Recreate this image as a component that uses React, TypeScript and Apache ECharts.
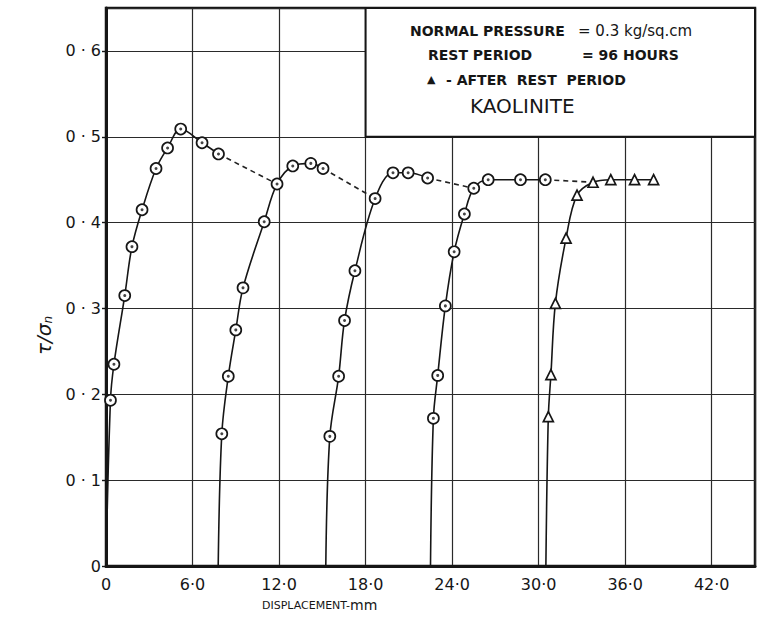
import React, { useEffect, useRef } from "react";
import * as echarts from "echarts";

// Displacement (mm) and tau/sigma_n readings, one pair of arrays per shear cycle.
// The first point of each cycle is where its curve leaves the x axis (no marker).
const CYCLE1_X = [0.0, 0.31, 0.55, 1.3, 1.8, 2.5, 3.47, 4.27, 5.18, 6.66, 7.8];
const CYCLE1_Y = [0.0, 0.193, 0.235, 0.315, 0.372, 0.415, 0.463, 0.487, 0.509, 0.493, 0.48];
const CYCLE2_X = [7.78, 8.03, 8.48, 9.0, 9.5, 10.97, 11.86, 12.95, 14.2, 15.05];
const CYCLE2_Y = [0.0, 0.154, 0.221, 0.275, 0.324, 0.401, 0.445, 0.466, 0.469, 0.463];
const CYCLE3_X = [15.24, 15.52, 16.13, 16.54, 17.26, 18.66, 19.9, 20.95, 22.3];
const CYCLE3_Y = [0.0, 0.151, 0.221, 0.286, 0.344, 0.428, 0.458, 0.458, 0.452];
const CYCLE4_X = [22.5, 22.7, 23.0, 23.53, 24.14, 24.85, 25.5, 26.5, 28.74, 30.46];
const CYCLE4_Y = [0.0, 0.172, 0.222, 0.303, 0.366, 0.41, 0.44, 0.45, 0.45, 0.45];
// After rest period (triangles)
const REST_X = [30.5, 30.67, 30.85, 31.16, 31.9, 32.66, 33.77, 35.0, 36.65, 37.97];
const REST_Y = [0.0, 0.174, 0.223, 0.306, 0.382, 0.432, 0.447, 0.45, 0.45, 0.45];

// Dashed links between successive cycles
const LINK1 = [[7.8, 0.48], [11.86, 0.445]];
const LINK2 = [[15.05, 0.463], [18.66, 0.428]];
const LINK3 = [[22.3, 0.452], [25.5, 0.44]];
const LINK4 = [[30.46, 0.45], [33.77, 0.447]];

const X_TICKS = [0, 6, 12, 18, 24, 30, 36, 42];
const X_TICK_LABELS = ["0", "6·0", "12·0", "18·0", "24·0", "30·0", "36·0", "42·0"];
const Y_TICK_LABELS = ["0", "0 · 1", "0 · 2", "0 · 3", "0 · 4", "0 · 5", "0 · 6"];

const INK = "#161616";
const FONT = "DejaVu Sans";

function pairs(xs: number[], ys: number[]) {
  return xs.map((x, i) => [x, ys[i]]);
}

function curveSeries(xs: number[], ys: number[], symbol: string, size: number, extra: any = {}) {
  const data = pairs(xs, ys).map((p, i) =>
    i === 0 ? { value: p, symbol: "none" } : { value: p }
  );
  return {
    type: "line",
    data,
    smooth: 0.35,
    symbol,
    symbolSize: size,
    showAllSymbol: true,
    lineStyle: { color: INK, width: 1.6 },
    itemStyle: { color: "#ffffff", borderColor: INK, borderWidth: 1.7 },
    z: 4,
    ...extra,
  };
}

function linkSeries(link: number[][]) {
  return {
    type: "line",
    data: link,
    symbol: "none",
    lineStyle: { color: "#222", width: 1.6, type: [5, 4] },
    z: 3,
  };
}

export default function App() {
  const ref = useRef<HTMLDivElement>(null);

  useEffect(() => {
    if (!ref.current) return;
    const chart = echarts.init(ref.current, null, { renderer: "svg" });

    const circleDots = [
      ...pairs(CYCLE1_X, CYCLE1_Y).slice(1),
      ...pairs(CYCLE2_X, CYCLE2_Y).slice(1),
      ...pairs(CYCLE3_X, CYCLE3_Y).slice(1),
      ...pairs(CYCLE4_X, CYCLE4_Y).slice(1),
    ];

    const option: any = {
      animation: false,
      backgroundColor: "#ffffff",
      grid: {
        left: 106,
        right: 3,
        top: 8,
        bottom: 62,
        show: true,
        borderColor: INK,
        borderWidth: 2.5,
        containLabel: false,
        outerBoundsMode: "none",
      },
      xAxis: {
        type: "value",
        min: 0,
        max: 45,
        interval: 6,
        axisLine: { show: true, lineStyle: { color: INK, width: 3 } },
        axisTick: { show: false },
        axisLabel: {
          margin: 10,
          color: INK,
          fontFamily: FONT,
          fontSize: 16,
          showMaxLabel: false,
          formatter: (v: number) => {
            const i = X_TICKS.indexOf(Math.round(v));
            return i >= 0 ? X_TICK_LABELS[i] : "";
          },
        },
        splitLine: { show: true, lineStyle: { color: "#2a2a2a", width: 1.2 } },
      },
      yAxis: {
        type: "value",
        min: 0,
        max: 0.65,
        interval: 0.1,
        axisLine: { show: true, lineStyle: { color: INK, width: 3 } },
        axisTick: { show: true, length: 4, lineStyle: { color: INK, width: 1.4 } },
        axisLabel: {
          margin: 5,
          color: INK,
          fontFamily: FONT,
          fontSize: 16,
          padding: [0, 0, 10, 0],
          showMaxLabel: false,
          formatter: (v: number) => {
            const i = Math.round(v * 10);
            return v <= 0.605 && i >= 0 && i < Y_TICK_LABELS.length ? Y_TICK_LABELS[i] : "";
          },
        },
        splitLine: { show: true, lineStyle: { color: "#2a2a2a", width: 1.2 } },
      },
      series: [
        {
          type: "line",
          data: [],
          silent: true,
          markArea: {
            silent: true,
            itemStyle: { color: "#ffffff", borderColor: INK, borderWidth: 2 },
            label: { show: false },
            data: [[{ coord: [18, 0.5] }, { coord: [45, 0.65] }]],
          },
          z: 2,
        },
        linkSeries(LINK1),
        linkSeries(LINK2),
        linkSeries(LINK3),
        linkSeries(LINK4),
        curveSeries(CYCLE1_X, CYCLE1_Y, "circle", 11),
        curveSeries(CYCLE2_X, CYCLE2_Y, "circle", 11),
        curveSeries(CYCLE3_X, CYCLE3_Y, "circle", 11),
        curveSeries(CYCLE4_X, CYCLE4_Y, "circle", 11),
        curveSeries(REST_X, REST_Y, "triangle", 10),
        {
          type: "scatter",
          data: circleDots,
          symbol: "circle",
          symbolSize: 3,
          itemStyle: { color: INK },
          z: 6,
          silent: true,
        },
      ],
      graphic: [
        {
          type: "text",
          left: 410,
          top: 24,
          z: 100,
          style: { text: "NORMAL PRESSURE", font: `bold 14px "${FONT}"`, fill: INK },
        },
        {
          type: "text",
          left: 578,
          top: 23,
          z: 100,
          style: { text: "= 0.3 kg/sq.cm", font: `15px "${FONT}"`, fill: INK },
        },
        {
          type: "text",
          left: 428,
          top: 48,
          z: 100,
          style: { text: "REST PERIOD", font: `bold 14px "${FONT}"`, fill: INK },
        },
        {
          type: "text",
          left: 582,
          top: 48,
          z: 100,
          style: { text: "= 96 HOURS", font: `bold 14px "${FONT}"`, fill: INK },
        },
        {
          type: "text",
          left: 427,
          top: 74,
          z: 100,
          style: { text: "▲", font: `11px "${FONT}"`, fill: INK },
        },
        {
          type: "text",
          left: 446,
          top: 73,
          z: 100,
          style: { text: "- AFTER  REST  PERIOD", font: `bold 14px "${FONT}"`, fill: INK },
        },
        {
          type: "text",
          left: 470,
          top: 96,
          z: 100,
          style: { text: "KAOLINITE", font: `20px "${FONT}"`, fill: INK },
        },
        {
          type: "text",
          left: 262,
          top: 598,
          z: 100,
          style: {
            text: "{a|DISPLACEMENT-}{b|mm}",
            rich: {
              a: { font: `11px "${FONT}"`, fill: INK },
              b: { font: `14px "${FONT}"`, fill: INK },
            },
          },
        },
        {
          type: "text",
          x: 34,
          y: 355,
          z: 100,
          rotation: Math.PI / 2,
          style: {
            text: "{a|τ/σ}{b|n}",
            rich: {
              a: { font: `italic 20px "${FONT}"`, fill: INK },
              b: { font: `italic 12px "${FONT}"`, fill: INK, verticalAlign: "bottom", padding: [8, 0, 0, 0] },
            },
          },
        },
      ],
    };

    chart.setOption(option);
    return () => chart.dispose();
  }, []);

  return (
    <div
      ref={ref}
      style={{ position: "fixed", left: 0, top: 0, width: 758, height: 628, background: "#fff" }}
    />
  );
}
